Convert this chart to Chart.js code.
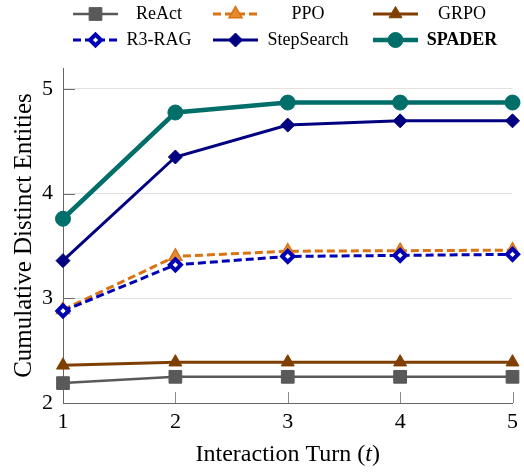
<!DOCTYPE html>
<html>
<head>
<meta charset="utf-8">
<script src="https://cdn.jsdelivr.net/npm/chart.js@4.4.1/dist/chart.umd.min.js"></script>
<style>
html, body { margin: 0; padding: 0; background: #fff; }
#wrap { width: 524px; height: 473px; }
</style>
</head>
<body>
<div id="wrap"><canvas id="chart"></canvas></div>
<script>
// Valeurs
var turns = [1, 2, 3, 4, 5];
var yTicks = [2, 3, 4, 5];
var react = [2.19, 2.25, 2.25, 2.25, 2.25];
var ppo = [2.89, 3.40, 3.45, 3.455, 3.46];
var grpo = [2.36, 2.39, 2.39, 2.39, 2.39];
var r3rag = [2.88, 3.32, 3.40, 3.41, 3.42];
var stepSearch = [3.36, 4.35, 4.655, 4.695, 4.695];
var spader = [3.76, 4.775, 4.87, 4.87, 4.87];

var SERIF = "'Liberation Serif', 'Times New Roman', serif";

// Style de chaque série (ordre de la légende)
var series = [
    { label: 'ReAct', data: react, color: '#595959', fill: '#595959', dash: [], style: 'rect', radius: 9, width: 2.5, pbw: 1, col: 0, row: 0 },
    { label: 'PPO', data: ppo, color: '#d97314', fill: '#e58a30', dash: [8, 4], style: 'triangle', radius: 7.5, width: 3, pbw: 1.5, col: 1, row: 0 },
    { label: 'GRPO', data: grpo, color: '#7f3f00', fill: '#7f3f00', dash: [], style: 'triangle', radius: 7.5, width: 3, pbw: 1, col: 2, row: 0 },
    { label: 'R3-RAG', data: r3rag, color: '#0000b4', fill: '#ffffff', dash: [8, 4], style: 'rectRot', radius: 5.5, width: 3, pbw: 4, col: 0, row: 1 },
    { label: 'StepSearch', data: stepSearch, color: '#000080', fill: '#000080', dash: [], style: 'rectRot', radius: 7, width: 3, pbw: 1, col: 1, row: 1 },
    { label: 'SPADER', data: spader, color: '#006e69', fill: '#006e69', dash: [], style: 'circle', radius: 7.5, width: 4.5, pbw: 1, col: 2, row: 1, bold: true }
];

function buildDatasets() {
    return series.map(function (s, i) {
        return {
            label: s.label,
            data: turns.map(function (t, k) { return { x: t, y: s.data[k] }; }),
            borderColor: s.color,
            backgroundColor: s.fill,
            borderWidth: s.width,
            borderDash: s.dash,
            pointStyle: s.style,
            pointRadius: s.radius,
            pointHoverRadius: s.radius,
            pointBackgroundColor: s.fill,
            pointBorderColor: s.color,
            pointBorderWidth: s.pbw,
            tension: 0,
            fill: false,
            clip: false,
            order: series.length - i
        };
    });
}

// Petites graduations tournées vers l'intérieur
var innerTicks = {
    id: 'innerTicks',
    beforeDatasetsDraw: function (chart) {
        var ctx = chart.ctx, a = chart.chartArea;
        var sx = chart.scales.x, sy = chart.scales.y;
        ctx.save();
        ctx.lineWidth = 1;
        ctx.strokeStyle = '#8a8a8a';
        turns.forEach(function (t) {
            if (t === turns[0]) return;
            var px = Math.round(sx.getPixelForValue(t)) + 0.5;
            ctx.beginPath();
            ctx.moveTo(px, a.bottom);
            ctx.lineTo(px, a.bottom - 11);
            ctx.stroke();
        });
        ctx.strokeStyle = '#6e6e6e';
        yTicks.forEach(function (v) {
            if (v === yTicks[0]) return;
            var py = Math.round(sy.getPixelForValue(v)) + 0.5;
            ctx.beginPath();
            ctx.moveTo(a.left, py);
            ctx.lineTo(a.left + 12, py);
            ctx.stroke();
        });
        ctx.restore();
    }
};

// Légende en tableau 3 x 2, comme la figure d'origine
var tableLegend = {
    id: 'tableLegend',
    afterDraw: function (chart) {
        var ctx = chart.ctx;
        var colX = [73, 213, 373];
        var textX = [159, 308, 462];
        var rowY = [14, 40];
        ctx.save();
        series.forEach(function (s) {
            var x0 = colX[s.col], y = rowY[s.row];
            ctx.beginPath();
            ctx.lineWidth = s.width;
            ctx.strokeStyle = s.color;
            ctx.setLineDash(s.dash);
            ctx.moveTo(x0, y);
            ctx.lineTo(x0 + 45, y);
            ctx.stroke();
            ctx.setLineDash([]);
            ctx.fillStyle = s.fill;
            ctx.strokeStyle = s.color;
            ctx.lineWidth = s.pbw;
            Chart.helpers.drawPoint(ctx, { pointStyle: s.style, radius: s.radius, rotation: 0, borderWidth: s.pbw }, x0 + 22.5, y);
            ctx.fillStyle = '#000';
            ctx.font = (s.bold ? 'bold ' : '') + '18px ' + SERIF;
            ctx.textAlign = 'center';
            ctx.textBaseline = 'middle';
            ctx.fillText(s.label, textX[s.col], y);
        });
        ctx.restore();
    }
};

// Titre de l'axe x avec le t en italique
var xTitle = {
    id: 'xTitle',
    afterDraw: function (chart) {
        var ctx = chart.ctx, a = chart.chartArea;
        var parts = [['Interaction Turn (', ''], ['t', 'italic '], [')', '']];
        ctx.save();
        ctx.fillStyle = '#000';
        ctx.textBaseline = 'middle';
        ctx.textAlign = 'left';
        var total = 0;
        parts.forEach(function (p) {
            ctx.font = p[1] + '24px ' + SERIF;
            p.push(ctx.measureText(p[0]).width);
            total += p[2];
        });
        var x = (a.left + a.right) / 2 - total / 2;
        parts.forEach(function (p) {
            ctx.font = p[1] + '24px ' + SERIF;
            ctx.fillText(p[0], x, 455);
            x += p[2];
        });
        ctx.restore();
    }
};

function setupChart() {
    var ctx = document.getElementById('chart');
    new Chart(ctx, {
        type: 'line',
        data: { datasets: buildDatasets() },
        options: {
            responsive: true,
            maintainAspectRatio: false,
            animation: false,
            layout: { padding: { top: 68, right: 10, left: 0, bottom: 0 } },
            plugins: {
                legend: { display: false },
                tooltip: { enabled: false }
            },
            scales: {
                x: {
                    type: 'linear',
                    min: 1,
                    max: 5,
                    afterFit: function (s) { s.height = 70; },
                    afterBuildTicks: function (s) { s.ticks = turns.map(function (v) { return { value: v }; }); },
                    ticks: {
                        padding: 6,
                        color: '#000',
                        font: { family: SERIF, size: 22 }
                    },
                    grid: { color: 'rgba(0,0,0,0)', drawTicks: false },
                    border: { display: true, color: '#666', width: 1 }
                },
                y: {
                    min: 2,
                    max: 5.2,
                    afterFit: function (s) { s.width = 63; },
                    afterBuildTicks: function (s) { s.ticks = yTicks.map(function (v) { return { value: v }; }); },
                    ticks: {
                        padding: 10,
                        color: '#000',
                        font: { family: SERIF, size: 22 }
                    },
                    grid: { color: '#e2e2e2', lineWidth: 1, drawTicks: false },
                    border: { display: true, color: '#666', width: 1 },
                    title: {
                        display: true,
                        text: 'Cumulative Distinct Entities',
                        color: '#000',
                        font: { family: SERIF, size: 25 },
                        padding: { top: 9, bottom: 0 }
                    }
                }
            }
        },
        plugins: [innerTicks, tableLegend, xTitle]
    });
}

setupChart();
</script>
</body>
</html>
